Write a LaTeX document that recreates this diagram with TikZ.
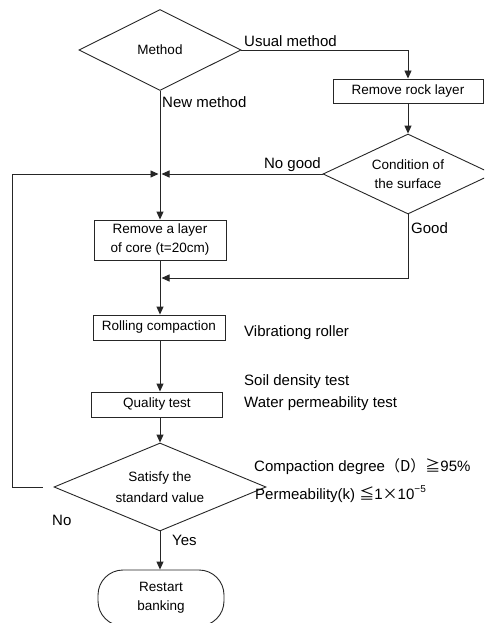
\documentclass[tikz,border=0pt]{standalone}
\usepackage{fontspec}
\setmainfont{Liberation Sans}
\newfontfamily\jp{Noto Sans CJK JP}
\usetikzlibrary{shapes.geometric,arrows.meta}
\begin{document}
\begin{tikzpicture}[x=1pt,y=-1pt,
  line/.style={draw=black!85, line width=0.9pt},
  arr/.style={line, -{Triangle[length=8pt,width=7pt]}},
  box/.style={line, rectangle, inner sep=0pt, align=center, font=\fontsize{13.5}{19}\selectfont},
  dia/.style={line, diamond, inner sep=0pt, align=center, font=\fontsize{13.5}{19}\selectfont},
  term/.style={line, rectangle, rounded corners=25pt, inner sep=0pt, align=center, font=\fontsize{13.5}{19}\selectfont},
  lab/.style={inner sep=0pt, anchor=west, font=\fontsize{15}{21}\selectfont},
]
\useasboundingbox (0,0) rectangle (484,623);
\begin{scope}
\clip (0,0) rectangle (484,623);
% nodes
\node[dia, minimum width=162pt, minimum height=81pt, shape aspect=2] (method) at (160,50) {Method};
\node[box, minimum width=150pt, minimum height=24pt] (rock) at (408,91) {Remove rock layer};
\node[dia, minimum width=170pt, minimum height=80pt, shape aspect=2.125] (cond) at (408,174) {Condition of\\the surface};
\node[box, minimum width=132pt, minimum height=40pt] (core) at (160,240) {Remove a layer\\of core (t=20cm)};
\node[box, minimum width=132pt, minimum height=25pt] (roll) at (159,327.5) {Rolling compaction};
\node[box, minimum width=131pt, minimum height=25pt] (qual) at (157,404.5) {Quality test};
\node[dia, minimum width=212pt, minimum height=88pt, shape aspect=2.4, font=\fontsize{13.5}{21}\selectfont] (dec) at (160,487) {Satisfy the\\standard value};
\node[term, minimum width=126pt, minimum height=56pt] (rest) at (161,598) {Restart\\banking};
% junctions
\coordinate (j1) at (160,174);
\coordinate (j2) at (160,278);
\coordinate (lp) at (12,487);
% connectors
\draw[arr] (method.east) -| (rock.north);
\draw[arr] (rock.south) -- (cond.north);
\draw[arr] (method.south) -- (core.north);
\draw[arr] (cond.west) -- ([xshift=1.5pt]j1);
\draw[arr] (cond.south) |- ([xshift=1.5pt]j2);
\draw[arr] (core.south) -- (core.south |- roll.north);
\draw[arr] (core.south |- roll.south) -- (core.south |- qual.north);
\draw[arr] (core.south |- qual.south) -- (dec.north);
\draw[arr] (dec.south) -- (dec.south |- rest.north);
\draw[arr] ([xshift=-11pt]dec.west) -- (lp) |- ([xshift=-1.5pt]j1);
% labels
\node[lab] (l1) at (244,41) {Usual method};
\node[lab] (l2) at (162,102) {New method};
\node[lab, anchor=east] (l3) at (321,165) {No good};
\node[lab] (l4) at (411,228) {Good};
\node[lab] (l5) at (244,333) {Vibrationg roller};
\node[lab] (l6) at (244,382) {Soil density test};
\node[lab] (l7) at (244,404) {Water permeability test};
\node[lab] (l8) at (254,467) {Compaction degree{\jp （D）≧}95\%};
\node[lab] (l9) at (255,494) {Permeability(k) {\jp ≦}1{\jp ×}10\raisebox{0.9ex}{\fontsize{10}{10}\selectfont −5}};
\node[lab] (l10) at (52,520) {No};
\node[lab] (l11) at (172,540) {Yes};
\end{scope}
\end{tikzpicture}
\end{document}
